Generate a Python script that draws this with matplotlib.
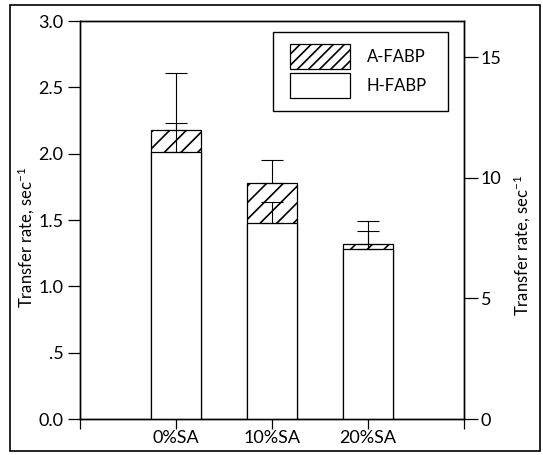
import numpy as np
import matplotlib
matplotlib.use("Agg")
import matplotlib.pyplot as plt
from matplotlib.patches import Patch, Rectangle
from matplotlib.legend_handler import HandlerPatch

plt.rcParams["font.family"] = ["Lato", "DejaVu Sans"]
plt.rcParams["mathtext.default"] = "regular"
plt.rcParams["hatch.linewidth"] = 1.2

categorias = ["0%SA", "10%SA", "20%SA"]
# A-FABP no eixo da esquerda
a_fabp = [2.18, 1.78, 1.32]
a_erro = [0.43, 0.17, 0.17]
# H-FABP no eixo da direita
h_fabp = [11.08, 8.13, 7.03]
h_erro = [1.20, 0.85, 0.76]
rotulos_esq = ["0.0", ".5", "1.0", "1.5", "2.0", "2.5", "3.0"]

figura = plt.figure(figsize=(5.43, 4.55), dpi=100)
ax = figura.add_axes([0.1473, 0.0791, 0.7072, 0.8747])
ax2 = ax.twinx()

x = np.arange(len(categorias))
largura = 0.53

ax.bar(x, a_fabp, largura, color="white", edgecolor="black", linewidth=0.9, hatch="//")
ax.errorbar(x, a_fabp, yerr=[np.zeros(3), a_erro], fmt="none", ecolor="black",
            elinewidth=0.8, capsize=8, capthick=0.8)

ax2.bar(x, h_fabp, largura, color="white", edgecolor="black", linewidth=0.9)
ax2.errorbar(x, h_fabp, yerr=[np.zeros(3), h_erro], fmt="none", ecolor="black",
             elinewidth=0.8, capsize=8, capthick=0.8)

ax.set_xlim(-1, 3)
ax.set_xticks([-1, 0, 1, 2, 3])
ax.set_xticklabels([""] + categorias + [""])
ax.set_ylim(0, 3)
ax.set_yticks(np.arange(0, 3.01, 0.5))
ax.set_yticklabels(rotulos_esq)
ax2.set_ylim(0, 16.5)
ax2.set_yticks([0, 5, 10, 15])

ax.tick_params(axis="y", direction="out", length=9, width=0.9, labelsize=13, pad=3)
ax.tick_params(axis="x", direction="out", length=7, width=0.9, labelsize=13, pad=1)
ax2.tick_params(axis="y", direction="out", length=10, width=0.9, labelsize=13, pad=2)
for eixo in (ax, ax2):
    for spine in eixo.spines.values():
        spine.set_linewidth(1.0)

ax.set_ylabel("Transfer rate, sec$^{-1}$", fontsize=12)
ax.yaxis.set_label_coords(-0.112, 0.457)
ax2.set_ylabel("Transfer rate, sec$^{-1}$", fontsize=12)
ax2.yaxis.set_label_coords(1.125, 0.437)


def caixa_legenda(legend, orig_handle, xdescent, ydescent, width, height, fontsize):
    # retangulo mais alto que o texto, centrado na linha
    alto = 18
    return Rectangle((-xdescent, -ydescent + height / 2 - alto / 2), width, alto)


legenda = [Patch(facecolor="white", edgecolor="black", hatch="///", linewidth=0.9, label="A-FABP"),
           Patch(facecolor="white", edgecolor="black", linewidth=0.9, label="H-FABP")]
leg = ax2.legend(handles=legenda, loc="upper left", bbox_to_anchor=(0.503, 0.779, 0.455, 0.193),
                 mode="expand", borderaxespad=0, fontsize=12, handlelength=3.6, handleheight=1.0,
                 handletextpad=1.0, labelspacing=0.8, borderpad=1.0, fancybox=False,
                 framealpha=1, edgecolor="black",
                 handler_map={Patch: HandlerPatch(patch_func=caixa_legenda)})
leg.get_frame().set_linewidth(1.0)

figura.patches.append(Rectangle((0.018, 0.009), 0.9765, 0.98, transform=figura.transFigure,
                                fill=False, edgecolor="black", linewidth=1.2))

figura.savefig("out.png", dpi=100)
